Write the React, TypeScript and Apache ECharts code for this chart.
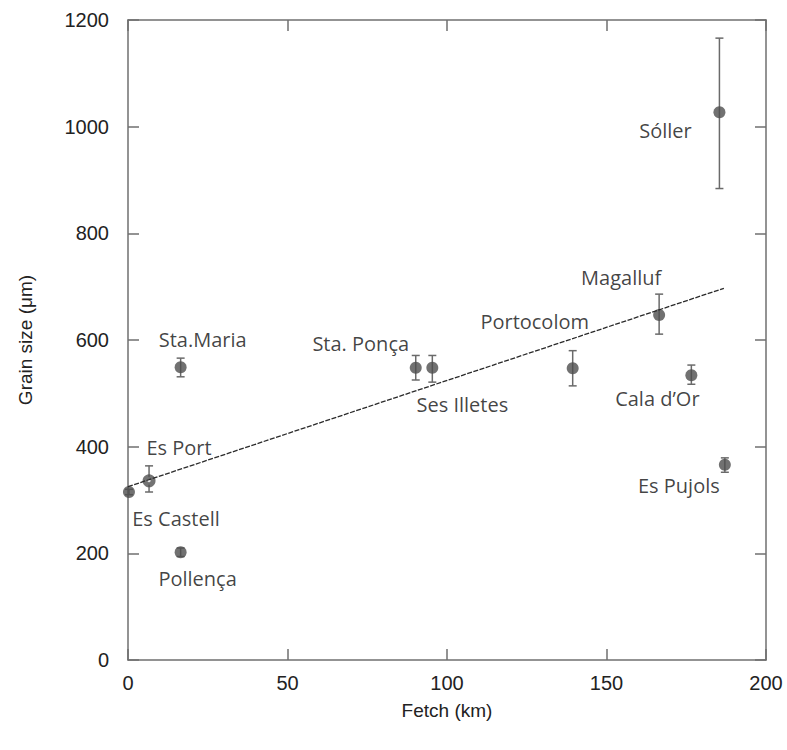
import React, { useEffect, useRef } from "react";
import * as echarts from "echarts";

// Beach sites, wave fetch (km) and mean grain size (µm) with error range
const sites = [
  "Es Castell",
  "Es Port",
  "Sta.Maria",
  "Pollença",
  "Sta. Ponça",
  "Ses Illetes",
  "Portocolom",
  "Magalluf",
  "Cala d’Or",
  "Es Pujols",
  "Sóller",
];
const fetchKm = [0.3, 6.6, 16.5, 16.5, 90.2, 95.4, 139.4, 166.5, 176.6, 187.1, 185.4];
const grainSize = [315, 336, 549, 202, 548, 548, 547, 647, 534, 366, 1027];
const grainLow = [310, 315, 531, 194, 525, 521, 514, 611, 517, 352, 884];
const grainHigh = [320, 364, 566, 210, 571, 571, 580, 686, 553, 379, 1166];

// Linear fit endpoints
const trendX = [0, 186.8];
const trendY = [325, 697];

// Axis ticks
const xTicks = [0, 50, 100, 150, 200];
const yTicks = [0, 200, 400, 600, 800, 1000, 1200];

// Label placement relative to each marker (px)
const labelOffsets: [number, number][] = [
  [47, 26],
  [30, -33],
  [22, -28],
  [17, 26],
  [-55, -24],
  [30, 37],
  [-38, -47],
  [-38, -37],
  [-34, 23],
  [-46, 21],
  [-54, 18],
];

const AXIS_COLOR = "#6f6f6f";
const TEXT_FONT = "'Liberation Sans', Arial, sans-serif";
const LABEL_FONT = "'Open Sans', 'Noto Sans', sans-serif";

export default function App() {
  const ref = useRef<HTMLDivElement>(null);

  useEffect(() => {
    if (!ref.current) return;
    const chart = echarts.init(ref.current, undefined, { renderer: "svg" });

    const xMin = xTicks[0];
    const xMax = xTicks[xTicks.length - 1];
    const xStep = xTicks[1] - xTicks[0];
    const yMin = yTicks[0];
    const yMax = yTicks[yTicks.length - 1];
    const yStep = yTicks[1] - yTicks[0];

    const axisLine = () => ({ show: true, onZero: false, lineStyle: { color: AXIS_COLOR, width: 1.5 } });
    const axisTick = () => ({ show: true, inside: true, length: 11, lineStyle: { color: AXIS_COLOR, width: 1.5 } });

    const points = sites.map((name, i) => ({
      name,
      value: [fetchKm[i], grainSize[i]],
      label: { offset: labelOffsets[i] },
      symbolSize: name === "Es Port" ? 8 : 12,
      itemStyle:
        name === "Es Port"
          ? { color: "#ffffff", borderColor: "#505050", borderWidth: 5 }
          : undefined,
    }));

    const bars = sites.map((_, i) => [fetchKm[i], grainLow[i], grainHigh[i]]);

    chart.setOption({
      animation: false,
      grid: { left: 128, right: 21, top: 20, bottom: 90, containLabel: false },
      xAxis: [
        {
          type: "value",
          position: "bottom",
          min: xMin,
          max: xMax,
          interval: xStep,
          name: "Fetch (km)",
          nameLocation: "middle",
          nameGap: 41,
          nameTextStyle: { fontFamily: TEXT_FONT, fontSize: 19, color: "#222" },
          axisLine: axisLine(),
          axisTick: axisTick(),
          splitLine: { show: false },
          axisLabel: { fontFamily: TEXT_FONT, fontSize: 20, color: "#222", margin: 13 },
        },
        {
          type: "value",
          position: "top",
          min: xMin,
          max: xMax,
          interval: xStep,
          axisLine: axisLine(),
          axisTick: axisTick(),
          splitLine: { show: false },
          axisLabel: { show: false },
        },
      ],
      yAxis: [
        {
          type: "value",
          position: "left",
          min: yMin,
          max: yMax,
          interval: yStep,
          name: "Grain size (μm)",
          nameLocation: "middle",
          nameGap: 93,
          nameTextStyle: { fontFamily: TEXT_FONT, fontSize: 19, color: "#222" },
          axisLine: axisLine(),
          axisTick: axisTick(),
          splitLine: { show: false },
          axisLabel: {
            fontFamily: TEXT_FONT,
            fontSize: 20,
            color: "#222",
            margin: 19,
            formatter: (v: number) => String(v),
          },
        },
        {
          type: "value",
          position: "right",
          min: yMin,
          max: yMax,
          interval: yStep,
          axisLine: axisLine(),
          axisTick: axisTick(),
          splitLine: { show: false },
          axisLabel: { show: false },
        },
      ],
      series: [
        {
          type: "custom",
          name: "error",
          xAxisIndex: 0,
          yAxisIndex: 0,
          data: bars,
          z: 2,
          renderItem: (params: any, api: any) => {
            const x = api.value(0);
            const lo = api.coord([x, api.value(1)]);
            const hi = api.coord([x, api.value(2)]);
            const cap = 4;
            const style = { stroke: "#6a6a6a", lineWidth: 1.5 };
            return {
              type: "group",
              children: [
                { type: "line", shape: { x1: lo[0], y1: lo[1], x2: hi[0], y2: hi[1] }, style },
                { type: "line", shape: { x1: hi[0] - cap, y1: hi[1], x2: hi[0] + cap, y2: hi[1] }, style },
                { type: "line", shape: { x1: lo[0] - cap, y1: lo[1], x2: lo[0] + cap, y2: lo[1] }, style },
              ],
            };
          },
        },
        {
          type: "line",
          name: "fit",
          xAxisIndex: 0,
          yAxisIndex: 0,
          data: trendX.map((x, i) => [x, trendY[i]]),
          symbol: "none",
          z: 4,
          lineStyle: { color: "#2a2a2a", width: 1.3, type: [5, 1.5] },
        },
        {
          type: "scatter",
          name: "sites",
          xAxisIndex: 0,
          yAxisIndex: 0,
          data: points,
          symbol: "circle",
          symbolSize: 12,
          z: 3,
          itemStyle: { color: "#4d4d4d" },
          label: {
            show: true,
            position: "inside",
            formatter: "{b}",
            fontFamily: LABEL_FONT,
            fontSize: 20,
            color: "#111",
          },
        },
      ],
    });

    return () => chart.dispose();
  }, []);

  return (
    <div
      ref={ref}
      style={{ position: "absolute", left: 0, top: 0, width: 787, height: 750 }}
    />
  );
}
